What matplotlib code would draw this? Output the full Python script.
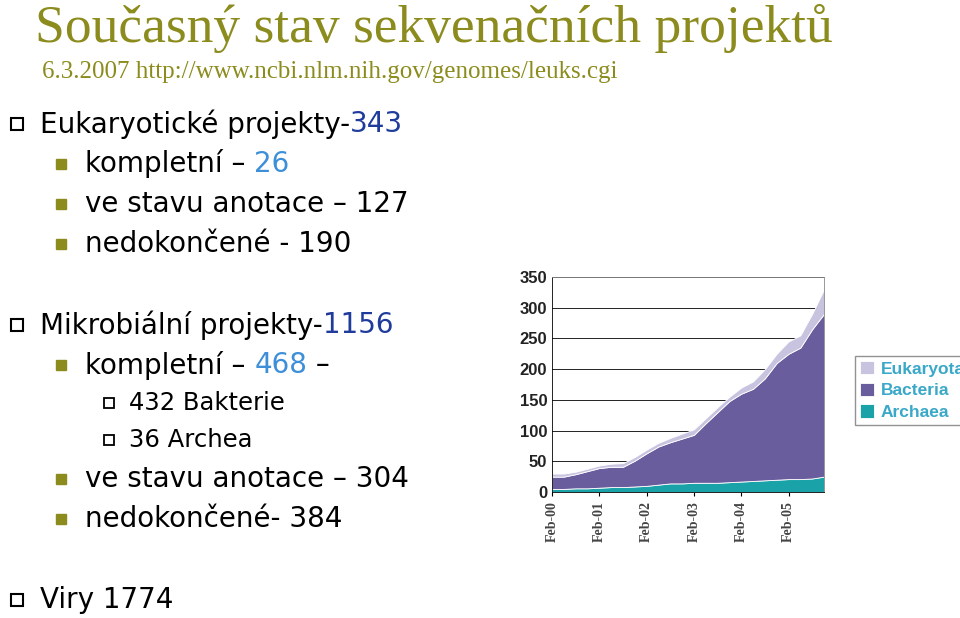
import matplotlib
matplotlib.use('Agg')
import matplotlib.pyplot as plt
from matplotlib.patches import Rectangle

# chart data (years since Feb-00, quarterly)
years = [i * 0.25 for i in range(24)]
archaea = [5, 5, 6, 6, 7, 8, 8, 9, 10, 12, 14, 14, 15, 15, 15, 16, 17, 18, 19, 20, 21, 21, 22, 25]
arch_bact = [25, 25, 29, 34, 39, 41, 41, 51, 63, 74, 81, 87, 93, 112, 130, 148, 160, 168, 185, 210, 225, 235, 265, 290]
total = [30, 30, 33, 38, 43, 46, 47, 57, 69, 80, 88, 95, 102, 120, 138, 155, 170, 180, 200, 225, 245, 255, 290, 330]
bacteria = [b - a for a, b in zip(archaea, arch_bact)]
eukaryota = [t - b for b, t in zip(arch_bact, total)]
xlabels = ['Feb-00', 'Feb-01', 'Feb-02', 'Feb-03', 'Feb-04', 'Feb-05']

OLIVE = '#8C8C1E'
DBLUE = '#1F3C9C'
LBLUE = '#3C8FD8'

fig = plt.figure(figsize=(9.6, 6.18), dpi=100)
W, H = 960, 618

fig.text(35 / W, 1 - 42 / H, 'Současný stav sekvenačních projektů', family='Liberation Serif',
         size=38.5, color=OLIVE, va='baseline')
fig.text(42 / W, 1 - 78 / H, '6.3.2007 http://www.ncbi.nlm.nih.gov/genomes/leuks.cgi',
         family='Liberation Serif', size=18, color=OLIVE, va='baseline')

lines = [
    (0, 124, [('Eukaryotické projekty-', 'black'), ('343', DBLUE)]),
    (1, 164, [('kompletní – ', 'black'), ('26', LBLUE)]),
    (1, 204, [('ve stavu anotace – 127', 'black')]),
    (1, 244, [('nedokončené - 190', 'black')]),
    (0, 325, [('Mikrobiální projekty-', 'black'), ('1156', DBLUE)]),
    (1, 365, [('kompletní – ', 'black'), ('468', LBLUE), (' –', 'black')]),
    (2, 403, [('432 Bakterie', 'black')]),
    (2, 440, [('36 Archea', 'black')]),
    (1, 479, [('ve stavu anotace – 304', 'black')]),
    (1, 519, [('nedokončené- 384', 'black')]),
    (0, 600, [('Viry 1774', 'black')]),
]
text_x = {0: 40, 1: 85, 2: 129}
renderer = fig.canvas.get_renderer()
for level, py, parts in lines:
    x = text_x[level]
    size = 20 if level < 2 else 17.5
    for s, c in parts:
        t = fig.text(x / W, 1 - py / H, s, size=size, color=c, va='center', family='DejaVu Sans')
        x += t.get_window_extent(renderer).width
    if level == 0:
        r = Rectangle((11 / W, 1 - (py + 6) / H), 12 / W, 12 / H, transform=fig.transFigure,
                      fill=False, edgecolor='black', lw=1.5)
    elif level == 1:
        r = Rectangle((56 / W, 1 - (py + 5) / H), 10 / W, 10 / H, transform=fig.transFigure,
                      facecolor=OLIVE, edgecolor=OLIVE)
    else:
        r = Rectangle((104 / W, 1 - (py + 5) / H), 10 / W, 10 / H, transform=fig.transFigure,
                      fill=False, edgecolor='black', lw=1.3)
    fig.add_artist(r)

ax = fig.add_axes([552 / W, 1 - 492 / H, 272 / W, 215 / H])
ax.stackplot(years, archaea, bacteria, eukaryota,
             colors=['#19A3A8', '#6A5D9E', '#C8C4E0'], labels=['Archaea', 'Bacteria', 'Eukaryota'],
             edgecolor='white', linewidth=0.6)
ax.set_xlim(0, 5.75)
ax.set_ylim(0, 350)
ax.set_yticks(range(0, 351, 50))
ax.set_xticks(range(6))
ax.set_xticklabels(xlabels, rotation=90, family='Liberation Serif', weight='bold', size=10, color='#444444')
ax.tick_params(axis='y', labelsize=12, length=0, labelcolor='#222222')
for lab in ax.get_yticklabels():
    lab.set_family('Liberation Sans')
    lab.set_weight('bold')
ax.tick_params(axis='x', length=3)
ax.grid(axis='y', color='black', lw=0.6)
ax.set_axisbelow(True)
for sp in ax.spines.values():
    sp.set_color('#888888')
    sp.set_linewidth(0.6)
ax.spines['left'].set_color('black')
ax.spines['bottom'].set_color('black')

h, l = ax.get_legend_handles_labels()
leg = fig.legend(h[::-1], l[::-1], loc='upper left', bbox_to_anchor=(846 / W, 1 - 347 / H),
                 frameon=True, fancybox=False, edgecolor='#777777', handlelength=0.8,
                 handleheight=0.8, handletextpad=0.4, borderpad=0.3, labelspacing=0.35,
                 prop={'family': 'Liberation Sans', 'weight': 'bold', 'size': 12.5})
for t in leg.get_texts():
    t.set_color('#3AA8C8')

fig.savefig('out.png', dpi=100)
